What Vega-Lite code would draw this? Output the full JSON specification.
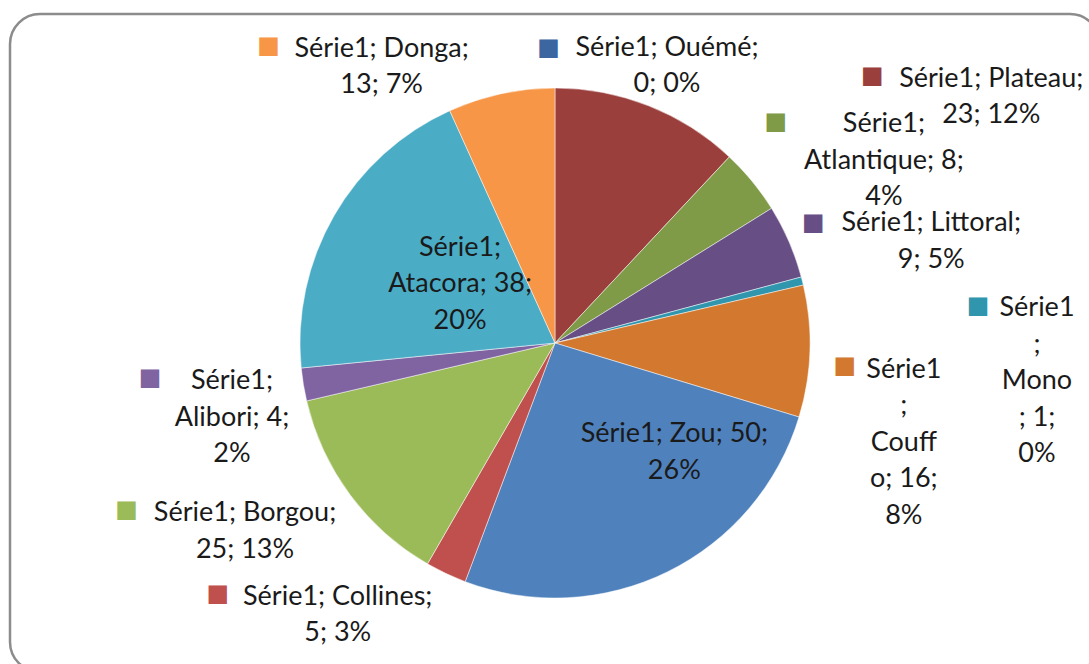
{
  "$schema": "https://vega.github.io/schema/vega-lite/v6.json",
  "width": 1090,
  "height": 658,
  "autosize": {"type": "none"},
  "padding": {"left": 10, "top": 14, "right": 0, "bottom": 0},
  "background": "white",
  "view": {"stroke": "#8c8c8c", "strokeWidth": 2.5, "cornerRadius": 30, "fill": "white"},
  "config": {
    "view": {"stroke": "#8c8c8c", "strokeWidth": 2.5, "cornerRadius": 30, "fill": "white"},
    "text": {"font": "Lato", "fontSize": 27, "lineBreak": "\n", "lineHeight": 36.5, "fill": "#1a1a1a", "align": "center", "baseline": "middle"}
  },
  "data": {
    "values": [
      {"idx": 1, "region": "Ouémé", "value": 0, "label": "Série1; Ouémé;\n0; 0%"},
      {"idx": 2, "region": "Plateau", "value": 23, "label": "Série1; Plateau;\n23; 12%"},
      {"idx": 3, "region": "Atlantique", "value": 8, "label": "Série1;\nAtlantique; 8;\n4%"},
      {"idx": 4, "region": "Littoral", "value": 9, "label": "Série1; Littoral;\n9; 5%"},
      {"idx": 5, "region": "Mono", "value": 1, "label": "Série1\n;\nMono\n; 1;\n0%"},
      {"idx": 6, "region": "Couffo", "value": 16, "label": "Série1\n;\nCouff\no; 16;\n8%"},
      {"idx": 7, "region": "Zou", "value": 50, "label": "Série1; Zou; 50;\n26%"},
      {"idx": 8, "region": "Collines", "value": 5, "label": "Série1; Collines;\n5; 3%"},
      {"idx": 9, "region": "Borgou", "value": 25, "label": "Série1; Borgou;\n25; 13%"},
      {"idx": 10, "region": "Alibori", "value": 4, "label": "Série1;\nAlibori; 4;\n2%"},
      {"idx": 11, "region": "Atacora", "value": 38, "label": "Série1;\nAtacora; 38;\n20%"},
      {"idx": 12, "region": "Donga", "value": 13, "label": "Série1; Donga;\n13; 7%"}
    ]
  },
  "encoding": {
    "theta": {"field": "value", "type": "quantitative", "stack": true},
    "order": {"field": "idx", "type": "quantitative"}
  },
  "layer": [
    {
      "mark": {"type": "arc", "outerRadius": 255, "stroke": "#ffffff", "strokeWidth": 0.7, "strokeOpacity": 0.7},
      "encoding": {
        "color": {
          "field": "region", "type": "nominal", "legend": null,
          "scale": {
            "domain": ["Ouémé", "Plateau", "Atlantique", "Littoral", "Mono", "Couffo", "Zou", "Collines", "Borgou", "Alibori", "Atacora", "Donga"],
            "range": ["#3B66A0", "#9B3F3D", "#7F9B48", "#674F86", "#2F96AE", "#D2782F", "#4F81BD", "#C0504D", "#9BBB59", "#8064A2", "#4BACC6", "#F79646"]
          }
        }
      }
    },
    {"mark": {"type": "text", "radius": 300, "dx": 112, "dy": 4.75}, "encoding": {"text": {"condition": {"test": "datum.region === 'Ouémé'", "field": "label"}, "value": ""}}},
    {"mark": {"type": "text", "radius": 300, "dx": 326, "dy": 14.75}, "encoding": {"text": {"condition": {"test": "datum.region === 'Plateau'", "field": "label"}, "value": ""}}},
    {"mark": {"type": "text", "radius": 300, "dx": 97, "dy": -28.5}, "encoding": {"text": {"condition": {"test": "datum.region === 'Atlantique'", "field": "label"}, "value": ""}}},
    {"mark": {"type": "text", "radius": 300, "dx": 101, "dy": -0.25}, "encoding": {"text": {"condition": {"test": "datum.region === 'Littoral'", "field": "label"}, "value": ""}}},
    {"mark": {"type": "text", "radius": 300, "dx": 191, "dy": 38}, "encoding": {"text": {"condition": {"test": "datum.region === 'Mono'", "field": "label"}, "value": ""}}},
    {"mark": {"type": "text", "radius": 300, "dx": 49, "dy": 17}, "encoding": {"text": {"condition": {"test": "datum.region === 'Couffo'", "field": "label"}, "value": ""}}},
    {"mark": {"type": "text", "radius": 150, "dx": 53, "dy": -43.25}, "encoding": {"text": {"condition": {"test": "datum.region === 'Zou'", "field": "label"}, "value": ""}}},
    {"mark": {"type": "text", "radius": 300, "dx": -89, "dy": -17.25}, "encoding": {"text": {"condition": {"test": "datum.region === 'Collines'", "field": "label"}, "value": ""}}},
    {"mark": {"type": "text", "radius": 300, "dx": -69, "dy": -8.25}, "encoding": {"text": {"condition": {"test": "datum.region === 'Borgou'", "field": "label"}, "value": ""}}},
    {"mark": {"type": "text", "radius": 300, "dx": -27, "dy": -10.5}, "encoding": {"text": {"condition": {"test": "datum.region === 'Alibori'", "field": "label"}, "value": ""}}},
    {"mark": {"type": "text", "radius": 150, "dx": 35, "dy": -20.5}, "encoding": {"text": {"condition": {"test": "datum.region === 'Atacora'", "field": "label"}, "value": ""}}},
    {"mark": {"type": "text", "radius": 300, "dx": -110, "dy": -1.25}, "encoding": {"text": {"condition": {"test": "datum.region === 'Donga'", "field": "label"}, "value": ""}}},
    {"mark": {"type": "text", "radius": 300, "dx": -6.5, "dy": 5, "font": "DejaVu Sans", "fontSize": 24, "lineHeight": 24}, "encoding": {"color": {"field": "region", "type": "nominal", "legend": null}, "text": {"condition": {"test": "datum.region === 'Ouémé'", "value": "■"}, "value": ""}}},
    {"mark": {"type": "text", "radius": 300, "dx": 207, "dy": 12, "font": "DejaVu Sans", "fontSize": 24, "lineHeight": 24}, "encoding": {"color": {"field": "region", "type": "nominal", "legend": null}, "text": {"condition": {"test": "datum.region === 'Plateau'", "value": "■"}, "value": ""}}},
    {"mark": {"type": "text", "radius": 300, "dx": -11, "dy": -31, "font": "DejaVu Sans", "fontSize": 24, "lineHeight": 24}, "encoding": {"color": {"field": "region", "type": "nominal", "legend": null}, "text": {"condition": {"test": "datum.region === 'Atlantique'", "value": "■"}, "value": ""}}},
    {"mark": {"type": "text", "radius": 300, "dx": -17, "dy": -1, "font": "DejaVu Sans", "fontSize": 24, "lineHeight": 24}, "encoding": {"color": {"field": "region", "type": "nominal", "legend": null}, "text": {"condition": {"test": "datum.region === 'Littoral'", "value": "■"}, "value": ""}}},
    {"mark": {"type": "text", "radius": 300, "dx": 132, "dy": 36, "font": "DejaVu Sans", "fontSize": 24, "lineHeight": 24}, "encoding": {"color": {"field": "region", "type": "nominal", "legend": null}, "text": {"condition": {"test": "datum.region === 'Mono'", "value": "■"}, "value": ""}}},
    {"mark": {"type": "text", "radius": 300, "dx": -10, "dy": 13, "font": "DejaVu Sans", "fontSize": 24, "lineHeight": 24}, "encoding": {"color": {"field": "region", "type": "nominal", "legend": null}, "text": {"condition": {"test": "datum.region === 'Couffo'", "value": "■"}, "value": ""}}},
    {"mark": {"type": "text", "radius": 300, "dx": -209, "dy": -20, "font": "DejaVu Sans", "fontSize": 24, "lineHeight": 24}, "encoding": {"color": {"field": "region", "type": "nominal", "legend": null}, "text": {"condition": {"test": "datum.region === 'Collines'", "value": "■"}, "value": ""}}},
    {"mark": {"type": "text", "radius": 300, "dx": -187.5, "dy": -12, "font": "DejaVu Sans", "fontSize": 24, "lineHeight": 24}, "encoding": {"color": {"field": "region", "type": "nominal", "legend": null}, "text": {"condition": {"test": "datum.region === 'Borgou'", "value": "■"}, "value": ""}}},
    {"mark": {"type": "text", "radius": 300, "dx": -109, "dy": -14, "font": "DejaVu Sans", "fontSize": 24, "lineHeight": 24}, "encoding": {"color": {"field": "region", "type": "nominal", "legend": null}, "text": {"condition": {"test": "datum.region === 'Alibori'", "value": "■"}, "value": ""}}},
    {"mark": {"type": "text", "radius": 300, "dx": -223, "dy": -4, "font": "DejaVu Sans", "fontSize": 24, "lineHeight": 24}, "encoding": {"color": {"field": "region", "type": "nominal", "legend": null}, "text": {"condition": {"test": "datum.region === 'Donga'", "value": "■"}, "value": ""}}}
  ]
}
